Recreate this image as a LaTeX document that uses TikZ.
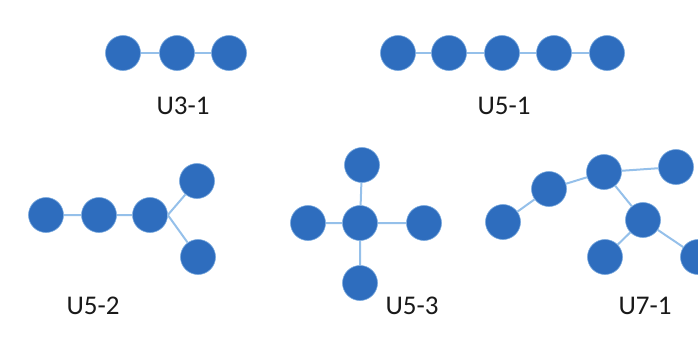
\documentclass[tikz,border=0pt]{standalone}
\usepackage{fontspec}
\setmainfont{Carlito}
\definecolor{atomblue}{HTML}{2E6DBE}
\definecolor{bondblue}{HTML}{95C0EA}
\begin{document}
\begin{tikzpicture}[x=1pt, y=-1pt,
    atom/.style={circle, fill=atomblue, draw=bondblue!70!atomblue, line width=0.6pt, minimum size=35pt, inner sep=0pt},
    bond/.style={draw=bondblue, line width=2pt},
    lbl/.style={font=\fontsize{27}{30}\selectfont, text=black!90}]
        \useasboundingbox (0,0) rectangle (698,338);
        % U3-1
        \node[atom] (a1) at (123,53) {};
        \node[atom] (a2) at (177,53) {};
        \node[atom] (a3) at (229,53) {};
        \node[lbl] (la) at (183,106) {U3-1};
        % U5-1
        \node[atom] (b1) at (398,53) {};
        \node[atom] (b2) at (449,53) {};
        \node[atom] (b3) at (502,53) {};
        \node[atom] (b4) at (554,53) {};
        \node[atom] (b5) at (607,53) {};
        \node[lbl] (lb) at (504,106) {U5-1};
        % U5-2
        \node[atom] (c1) at (46,215) {};
        \node[atom] (c2) at (99,215) {};
        \node[atom] (c3) at (150,215) {};
        \node[atom] (c4) at (197,181) {};
        \node[atom] (c5) at (198,257) {};
        \node[lbl] (lc) at (93,306) {U5-2};
        % U5-3
        \node[atom] (d1) at (362,165) {};
        \node[atom] (d2) at (308,223) {};
        \node[atom] (d3) at (360,223) {};
        \node[atom] (d4) at (424,223) {};
        \node[atom] (d5) at (360,283) {};
        \node[lbl] (ld) at (412,306) {U5-3};
        % U7-1
        \node[atom] (e1) at (503,222) {};
        \node[atom] (e2) at (549,189) {};
        \node[atom] (e3) at (604,172) {};
        \node[atom] (e4) at (676,167) {};
        \node[atom] (e5) at (643,220) {};
        \node[atom] (e6) at (605,257) {};
        \node[atom] (e7) at (698,257) {};
        \node[lbl] (le) at (645,306) {U7-1};
        % bonds
        \draw[bond] (a1) -- (a2) (a2) -- (a3);
        \draw[bond] (b1) -- (b2) (b2) -- (b3) (b3) -- (b4) (b4) -- (b5);
        \draw[bond] (c1) -- (c2) (c2) -- (c3) (c3.east) -- (c4) (c3.east) -- (c5);
        \draw[bond] (d3) -- (d1) (d3) -- (d2) (d3) -- (d4) (d3) -- (d5);
        \draw[bond] (e1) -- (e2) (e2) -- (e3) (e3) -- (e4) (e3) -- (e5) (e5) -- (e6) (e5) -- (e7);
    \end{tikzpicture}
\end{document}
